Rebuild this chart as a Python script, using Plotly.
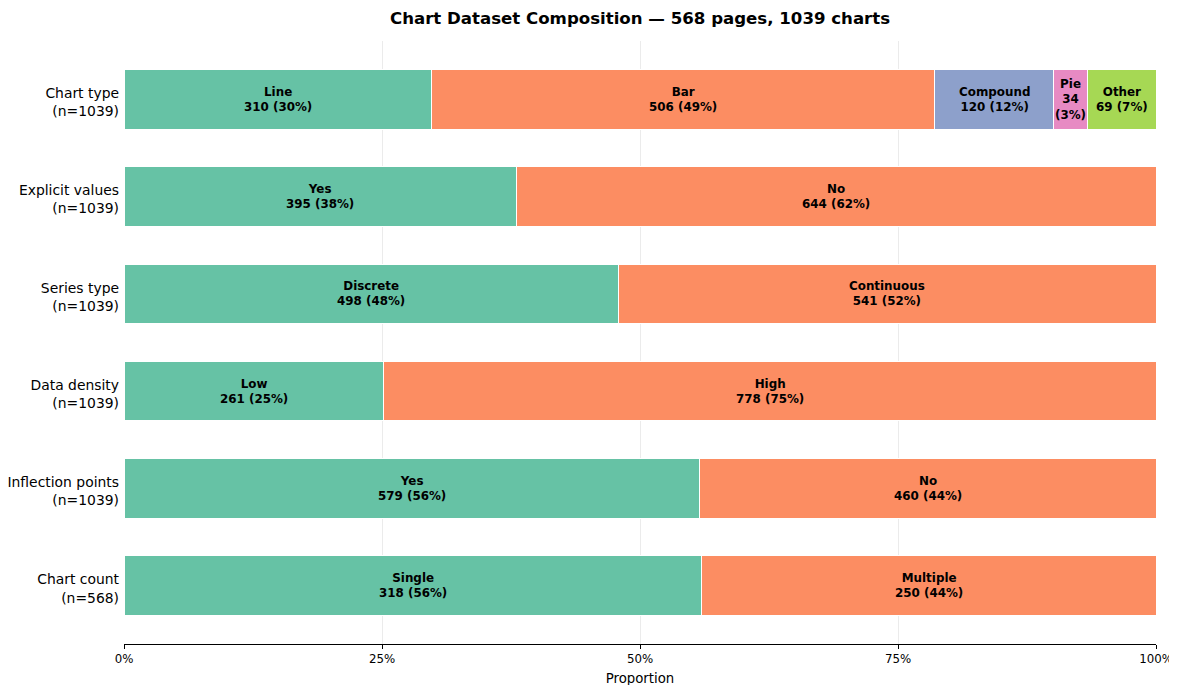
import plotly.graph_objects as go

# ---- data ----
row_names = ["Chart type", "Explicit values", "Series type", "Data density",
             "Inflection points", "Chart count"]
row_totals = [1039, 1039, 1039, 1039, 1039, 568]
seg_labels = [
    ["Line", "Bar", "Compound", "Pie", "Other"],
    ["Yes", "No"],
    ["Discrete", "Continuous"],
    ["Low", "High"],
    ["Yes", "No"],
    ["Single", "Multiple"],
]
seg_counts = [
    [310, 506, 120, 34, 69],
    [395, 644],
    [498, 541],
    [261, 778],
    [579, 460],
    [318, 250],
]
colors = ["#66c2a5", "#fc8d62", "#8da0cb", "#e78ac3", "#a6d854"]
x_tickvals = [0, 0.25, 0.5, 0.75, 1.0]
x_ticktext = ["0%", "25%", "50%", "75%", "100%"]
title = "Chart Dataset Composition — 568 pages, 1039 charts"

FONT = "DejaVu Sans"
W, H = 1177, 685
ML, MR, MT, MB = 116, 29, 33, 49   # page body has an 8px offset
n = len(row_names)
fig = go.Figure()
annotations = []
for i, (name, labs, cnts) in enumerate(zip(row_names, seg_labels, seg_counts)):
    ypos = n - 1 - i
    total = sum(cnts)
    cum = 0.0
    for j, (lab, c) in enumerate(zip(labs, cnts)):
        frac = c / total
        fig.add_trace(go.Bar(
            x=[frac], y=[ypos], orientation="h", width=0.61,
            marker=dict(color=colors[j], line=dict(color="white", width=1)),
            showlegend=False, hoverinfo="skip",
        ))
        pct = round(100 * frac)
        if frac < 0.05:
            txt = f"<b>{lab}<br>{c}<br>({pct}%)</b>"
        else:
            txt = f"<b>{lab}<br>{c} ({pct}%)</b>"
        annotations.append(dict(
            x=cum + frac / 2, y=ypos, xref="x", yref="y", text=txt,
            showarrow=False, font=dict(family=FONT, size=11.9, color="black"),
            align="center",
        ))
        cum += frac

title_px = 10  # from top of figure
annotations.append(dict(
    x=0.5, y=(H - MB - title_px) / (H - MT - MB),
    xref="paper", yref="paper", text=f"<b>{title}</b>",
    showarrow=False, xanchor="center", yanchor="middle",
    font=dict(family=FONT, size=16.6, color="black"),
))

fig.update_layout(
    barmode="stack",
    width=W, height=H,
    margin=dict(l=ML, r=MR, t=MT, b=MB, autoexpand=False),
    paper_bgcolor="white", plot_bgcolor="white",
    font=dict(family=FONT, color="black"),
    annotations=annotations,
)

fig.update_xaxes(
    range=[0, 1], tickvals=x_tickvals, ticktext=x_ticktext,
    showgrid=True, gridcolor="#ebebeb", gridwidth=1,
    showline=True, linecolor="black", linewidth=1.2,
    ticks="outside", ticklen=4, tickcolor="black",
    tickfont=dict(family=FONT, size=11.8),
    title=dict(text="Proportion", font=dict(family=FONT, size=13.3), standoff=8),
    zeroline=False, automargin=False,
)
fig.update_yaxes(
    range=[-0.6, n - 1 + 0.6],
    tickvals=[n - 1 - i for i in range(n)],
    ticktext=[f"{nm}<br>(n={t})" for nm, t in zip(row_names, row_totals)],
    showgrid=False, zeroline=False, showline=False, ticks="",
    tickfont=dict(family=FONT, size=13.9), ticklabelstandoff=4,
    ticklabelshift=3,
    automargin=False,
)
fig.write_html("out.html")
